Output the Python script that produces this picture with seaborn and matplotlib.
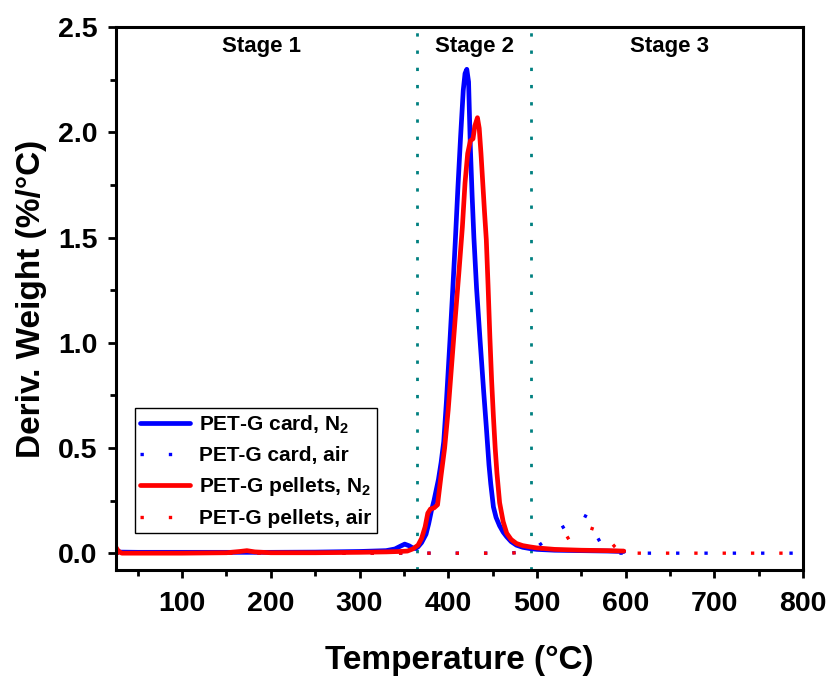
import matplotlib
matplotlib.use("Agg")
import matplotlib.pyplot as plt
from matplotlib.ticker import MultipleLocator
import seaborn as sns
import pandas as pd

# ---------------- data ----------------
card_n2_T = [25, 30, 50, 100, 150, 200, 250, 300, 330, 340, 346, 351, 356, 360, 363,
             366, 370, 375, 378, 381, 384, 389, 392, 395, 398, 402, 405, 408, 411, 414,
             417, 419, 421, 423, 425, 427, 429, 432, 436, 440, 443, 446, 448, 451, 454,
             458, 462, 466, 471, 477, 484, 492, 500, 520, 550, 580, 598]
card_n2_v = [0.015, 0.005, 0.004, 0.004, 0.004, 0.004, 0.005, 0.008, 0.012, 0.02, 0.033,
             0.043, 0.035, 0.025, 0.022, 0.03, 0.05, 0.09, 0.14, 0.20, 0.25, 0.35, 0.43,
             0.53, 0.72, 1.01, 1.24, 1.48, 1.74, 1.98, 2.20, 2.28, 2.30, 2.24, 1.93, 1.70,
             1.50, 1.26, 1.01, 0.77, 0.60, 0.42, 0.33, 0.22, 0.17, 0.13, 0.10, 0.078,
             0.055, 0.038, 0.028, 0.022, 0.018, 0.014, 0.012, 0.010, 0.008]

pellets_n2_T = [25, 28, 32, 50, 100, 150, 165, 173, 182, 200, 250, 300, 330, 345, 354,
                360, 366, 370, 374, 377, 380, 384, 388, 392, 396, 400, 404, 408, 412, 416,
                419, 422, 425, 428, 430, 433, 435, 437, 439, 441, 443, 445, 447, 449, 451,
                453, 455, 458, 462, 466, 471, 477, 484, 492, 500, 520, 550, 580, 598]
pellets_n2_v = [0.03, 0.01, 0.0, 0.0, 0.0, 0.002, 0.008, 0.012, 0.006, 0.002, 0.002,
                0.004, 0.006, 0.008, 0.01, 0.02, 0.038, 0.07, 0.125, 0.19, 0.21, 0.215,
                0.23, 0.37, 0.50, 0.68, 0.90, 1.12, 1.33, 1.55, 1.76, 1.90, 1.96, 1.97,
                2.03, 2.07, 2.02, 1.90, 1.76, 1.62, 1.49, 1.27, 1.03, 0.82, 0.65, 0.50,
                0.38, 0.24, 0.15, 0.095, 0.065, 0.046, 0.036, 0.03, 0.025, 0.018, 0.014,
                0.012, 0.010]

card_air_T = [25, 100, 200, 300, 400, 470, 480, 490, 500, 510, 520, 526, 532, 540, 547,
              553, 560, 567, 573, 578, 585, 600, 650, 700, 750, 790]
card_air_v = [0, 0, 0, 0, 0, 0, 0.005, 0.015, 0.03, 0.06, 0.09, 0.115, 0.13, 0.16, 0.19,
              0.18, 0.165, 0.085, 0.04, 0.015, 0.0, 0, 0, 0, 0, 0]

pellets_air_T = [25, 100, 200, 300, 400, 470, 480, 490, 500, 510, 515, 525, 532, 538,
                 545, 553, 560, 567, 575, 582, 588, 595, 650, 700, 750, 790]
pellets_air_v = [0, 0, 0, 0, 0, 0, 0.003, 0.008, 0.015, 0.025, 0.03, 0.05, 0.065, 0.08,
                 0.10, 0.128, 0.12, 0.11, 0.085, 0.06, 0.03, 0.0, 0, 0, 0, 0]

series_labels = ["PET-G card, N$_2$", "PET-G card, air",
                 "PET-G pellets, N$_2$", "PET-G pellets, air"]
stage_names = ["Stage 1", "Stage 2", "Stage 3"]
stage_x = [189, 430, 650]
stage_bounds = [365, 493]

x_label = "Temperature (°C)"
y_label = "Deriv. Weight (%/°C)"

# ---------------- plotting ----------------
sns.set_theme(style="ticks")
plt.rcParams['font.family'] = ['Liberation Sans', 'DejaVu Sans']
plt.rcParams['font.weight'] = 'bold'
plt.rcParams['mathtext.default'] = 'regular'
for key in ['text.color', 'axes.labelcolor', 'xtick.color', 'ytick.color',
            'axes.edgecolor']:
    plt.rcParams[key] = 'black'

fig = plt.figure(figsize=(8.32, 6.81), dpi=100)
ax = fig.add_axes([0.139, 0.163, 0.826, 0.797])

frames = {
    series_labels[0]: (card_n2_T, card_n2_v),
    series_labels[1]: (card_air_T, card_air_v),
    series_labels[2]: (pellets_n2_T, pellets_n2_v),
    series_labels[3]: (pellets_air_T, pellets_air_v),
}
styles = {
    series_labels[0]: dict(color="#0000FF", linewidth=3.4, linestyle="-"),
    series_labels[1]: dict(color="#0000FF", linewidth=2.4, linestyle=(0, (1, 7.5))),
    series_labels[2]: dict(color="#FF0000", linewidth=3.4, linestyle="-"),
    series_labels[3]: dict(color="#FF0000", linewidth=2.4, linestyle=(0, (1, 7.5))),
}
for lab in series_labels:
    T, v = frames[lab]
    df = pd.DataFrame({"T": T, "v": v})
    sns.lineplot(data=df, x="T", y="v", ax=ax, label=lab, sort=False,
                 estimator=None, **styles[lab])

for xb in stage_bounds:
    ax.axvline(xb, color="#008080", linewidth=2.0, linestyle=(0, (1.2, 5)), zorder=1)

for name, xs in zip(stage_names, stage_x):
    ax.text(xs, 2.41, name, ha="center", va="center", fontsize=16, fontweight="bold")

ax.set_xlim(25, 800)
ax.set_ylim(-0.08, 2.5)
ax.xaxis.set_major_locator(MultipleLocator(100))
ax.xaxis.set_minor_locator(MultipleLocator(50))
ax.yaxis.set_major_locator(MultipleLocator(0.5))
ax.yaxis.set_minor_locator(MultipleLocator(0.25))
ax.set_xticks([100, 200, 300, 400, 500, 600, 700, 800])
ax.set_yticks([0.0, 0.5, 1.0, 1.5, 2.0, 2.5])
ax.set_yticklabels(["0.0", "0.5", "1.0", "1.5", "2.0", "2.5"])

ax.tick_params(axis="both", which="major", direction="out", length=6, width=2,
               labelsize=20.5)
ax.tick_params(axis="x", which="major", pad=9)
ax.tick_params(axis="y", which="major", pad=7)
ax.tick_params(axis="both", which="minor", direction="out", length=4, width=2)
for lbl in ax.get_xticklabels() + ax.get_yticklabels():
    lbl.set_fontweight("bold")

for sp in ax.spines.values():
    sp.set_visible(True)
    sp.set_linewidth(2.2)
    sp.set_color("black")

ax.set_xlabel(x_label, fontsize=24, fontweight="bold", labelpad=20)
ax.set_ylabel(y_label, fontsize=24, fontweight="bold", labelpad=8)

leg = ax.legend(loc="lower left", bbox_to_anchor=(0.028, 0.068), borderaxespad=0,
                frameon=True, fancybox=False, edgecolor="black", framealpha=1,
                prop={"size": 15, "weight": "bold"}, handlelength=2.4,
                labelspacing=0.5, borderpad=0.25, handletextpad=0.45)
leg.get_frame().set_linewidth(1.0)

fig.savefig("out.png", dpi=100)
